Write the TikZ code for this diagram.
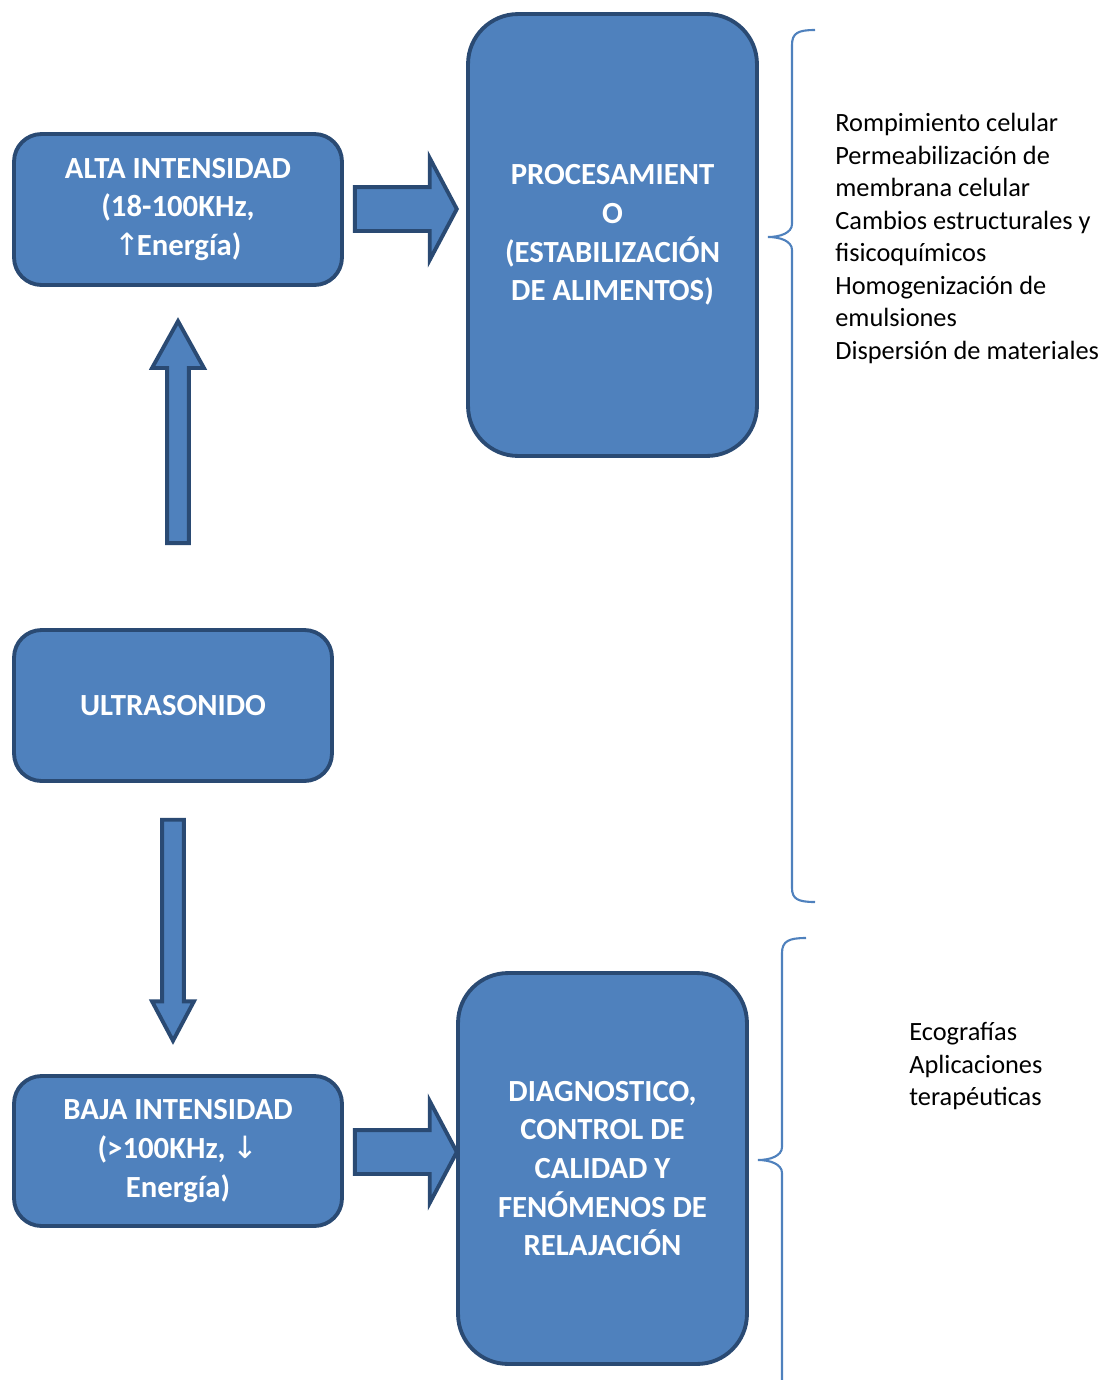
\documentclass[tikz,border=0pt]{standalone}
\usepackage{fontspec}
\setmainfont{Carlito}
\newfontfamily\symfont{DejaVu Sans}
\usetikzlibrary{shapes.arrows}

\definecolor{boxfill}{HTML}{4F81BD}
\definecolor{boxline}{HTML}{2A4A73}

\tikzset{
  box/.style={draw=boxline, fill=boxfill, line width=2.2pt, text=white,
    font=\fontsize{17.5}{22}\selectfont\bfseries, align=center, inner sep=0pt},
  fatarrow/.style={single arrow, draw=boxline, fill=boxfill, line width=2.2pt,
    inner xsep=0pt, single arrow head indent=0pt},
  brace/.style={draw=boxfill, line width=1.2pt},
  notes/.style={font=\fontsize{15}{18.5}\selectfont, align=left, inner sep=0pt, anchor=north west}
}

\begin{document}
\begin{tikzpicture}[x=0.02cm, y=-0.02cm]
      \useasboundingbox (0,0) rectangle (1108,1380);

      % boxes
      \node[box, minimum width=6.56cm, minimum height=3.02cm, rounded corners=0.55cm] (alta) at (178,209.5)
        {ALTA INTENSIDAD\\(18-100KHz,\\{\symfont\mdseries ↑}\kern-2pt Energía)};
      \node[box, minimum width=5.78cm, minimum height=8.84cm, rounded corners=1cm] (proc) at (612.5,235)
        {PROCESAMIENT\\O\\(ESTABILIZACIÓN\\DE ALIMENTOS)};
      \node[box, minimum width=6.36cm, minimum height=3.02cm, rounded corners=0.55cm] (ultra) at (173,705.5)
        {ULTRASONIDO};
      \node[box, minimum width=6.56cm, minimum height=3cm, rounded corners=0.55cm] (baja) at (178,1151)
        {BAJA INTENSIDAD\\(>100KHz, {\symfont\mdseries ↓}\\Energía)};
      \node[box, minimum width=5.78cm, minimum height=7.82cm, rounded corners=1cm] (diag) at (602.5,1168.5)
        {DIAGNOSTICO,\\CONTROL DE\\CALIDAD Y\\FENÓMENOS DE\\RELAJACIÓN};

      % block arrows
      \node[fatarrow, inner ysep=0.4cm, minimum height=2.04cm, single arrow head extend=0.58cm,
        single arrow tip angle=124] (toproc) at (400,209) {};
      \node[fatarrow, rotate=90, inner ysep=0.18cm, minimum height=4.44cm, single arrow head extend=0.3cm,
        single arrow tip angle=58] (toalta) at (178,442) {};
      \node[fatarrow, rotate=-90, inner ysep=0.18cm, minimum height=4.42cm, single arrow head extend=0.2cm,
        single arrow tip angle=56] (tobaja) at (173,920) {};
      \node[fatarrow, inner ysep=0.4cm, minimum height=2.04cm, single arrow head extend=0.58cm,
        single arrow tip angle=124] (todiag) at (400,1152) {};

      % braces
      \draw[brace] (815,30) .. controls (798,30) and (792,33) .. (792,45) -- (792,224)
        .. controls (792,233) and (780,237) .. (768,237)
        .. controls (780,237) and (792,241) .. (792,250) -- (792,888)
        .. controls (792,899) and (798,902) .. (815,902);
      \draw[brace] (806,938) .. controls (789,938) and (782,941) .. (782,953) -- (782,1147)
        .. controls (782,1156) and (770,1160) .. (758,1160)
        .. controls (770,1160) and (782,1164) .. (782,1173) -- (782,1380);

      % notes
      \node[notes] (procnotes) at (835,113)
        {Rompimiento celular\\Permeabilización de\\membrana celular\\Cambios estructurales y\\fisicoquímicos\\Homogenización de\\emulsiones\\Dispersión de materiales};
      \node[notes] (diagnotes) at (909,1022)
        {Ecografías\\Aplicaciones\\terapéuticas};
\end{tikzpicture}
\end{document}
